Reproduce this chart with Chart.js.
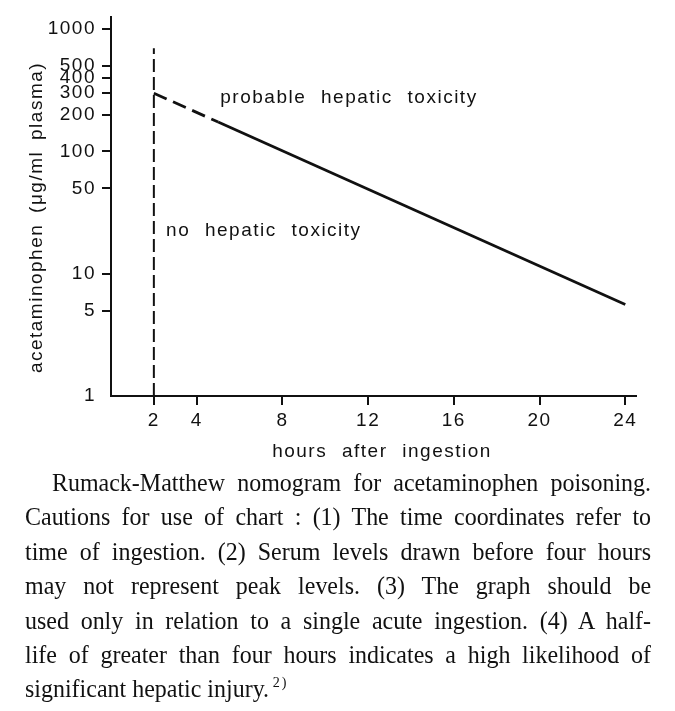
<!DOCTYPE html>
<html>
<head>
<meta charset="utf-8">
<script src="https://cdn.jsdelivr.net/npm/chart.js@4.4.1/dist/chart.umd.min.js"></script>
<style>
  html, body { margin: 0; padding: 0; background: #fff; }
  #marco { position: relative; width: 675px; height: 711px; overflow: hidden; }
  #nomograma { position: absolute; left: 0; top: 0; }
  #pie {
    position: absolute; left: 25px; top: 466px; width: 666px;
    transform: scaleX(0.94); transform-origin: 0 0;
    font-family: "Liberation Serif", serif; font-size: 25.5px; line-height: 34.4px; color: #111;
  }
  #pie div { text-align: justify; text-align-last: justify; white-space: nowrap; }
  #pie div.primera { text-indent: 28.7px; }
  #pie div.ultima { text-align-last: left; }
  #pie sup { font-size: 15px; line-height: 0; vertical-align: 10px; letter-spacing: 2px; margin-left: 4px; }
</style>
</head>
<body>
<div id="marco">
  <canvas id="nomograma" width="675" height="470"></canvas>
  <div id="pie">
    <div class="primera">Rumack-Matthew nomogram for acetaminophen poisoning.</div>
    <div>Cautions for use of chart : (1) The time coordinates refer to</div>
    <div>time of ingestion. (2) Serum levels drawn before four hours</div>
    <div>may not represent peak levels. (3) The graph should be</div>
    <div>used only in relation to a single acute ingestion. (4) A half-</div>
    <div>life of greater than four hours indicates a high likelihood of</div>
    <div class="ultima">significant hepatic injury.<sup>2)</sup></div>
  </div>
</div>
<script>
// Línea de toxicidad
const horasLinea = [2, 5, 24];
const nivelesLinea = [300, 174, 5.6];

// Corte vertical a las 2 horas
const horasCorte = [2, 2];
const nivelesCorte = [1, 700];

// Marcas de los ejes
const ticksX = [2, 4, 8, 12, 16, 20, 24];
const ticksY = [1, 5, 10, 50, 100, 200, 300, 400, 500, 1000];

// Textos
const textoArriba = "probable hepatic toxicity";
const textoAbajo = "no hepatic toxicity";
const tituloX = "hours after ingestion";
const tituloY = "acetaminophen (μg/ml plasma)";

const negro = "#111";
const fuente = { family: "'Liberation Sans', Arial, sans-serif", size: 19 };

// el original tiene las letras muy separadas
function espaciado(ctx) {
  ctx.letterSpacing = "1.5px";
  ctx.wordSpacing = "8px";
}

const rotulos = {
  id: "rotulos",
  beforeUpdate(chart) { espaciado(chart.ctx); },
  beforeDraw(chart) { espaciado(chart.ctx); },
  afterDraw(chart) {
    const ctx = chart.ctx;
    const sx = chart.scales.x, sy = chart.scales.y;
    ctx.save();
    espaciado(ctx);
    ctx.fillStyle = negro;
    ctx.font = "19px 'Liberation Sans', Arial, sans-serif";
    ctx.textBaseline = "alphabetic";
    ctx.textAlign = "left";
    ctx.fillText(textoArriba, sx.getPixelForValue(5.1), sy.getPixelForValue(248));
    ctx.fillText(textoAbajo, sx.getPixelForValue(2.57), sy.getPixelForValue(20.2));
    ctx.textAlign = "center";
    ctx.fillText(tituloX, 382, 457);
    ctx.translate(42, 217.5);
    ctx.rotate(-Math.PI / 2);
    ctx.wordSpacing = "4px";
    ctx.fillText(tituloY, 0, 0);
    ctx.restore();
  }
};

const datasets = [
  {
    data: horasLinea.map((h, i) => ({ x: h, y: nivelesLinea[i] })),
    borderColor: negro,
    borderWidth: 2.8,
    pointRadius: 0,
    segment: {
      // primer tramo discontinuo
      borderDash: c => c.p0DataIndex === 0 ? [14, 7] : undefined
    }
  },
  {
    data: horasCorte.map((h, i) => ({ x: h, y: nivelesCorte[i] })),
    borderColor: negro,
    borderWidth: 2,
    borderDash: [13, 5],
    pointRadius: 0
  }
];

new Chart(document.getElementById("nomograma"), {
  type: "line",
  data: { datasets },
  plugins: [rotulos],
  options: {
    responsive: false,
    animation: false,
    layout: { padding: { top: 17, right: 39, left: 0, bottom: 0 } },
    plugins: { legend: { display: false }, tooltip: { enabled: false } },
    scales: {
      x: {
        type: "linear",
        min: 0,
        max: 24.5,
        afterBuildTicks: s => { s.ticks = ticksX.map(v => ({ value: v })); },
        afterFit: s => { s.height = 470 - 396; },
        grid: { drawOnChartArea: false, drawTicks: true, tickLength: 9, color: negro, lineWidth: 2 },
        border: { display: true, color: negro, width: 2 },
        ticks: { color: negro, font: fuente, padding: 4, maxRotation: 0, autoSkip: false }
      },
      y: {
        type: "logarithmic",
        min: 1,
        max: 1250,
        afterBuildTicks: s => { s.ticks = ticksY.map(v => ({ value: v })); },
        afterFit: s => { s.width = 111; },
        grid: {
          drawOnChartArea: false, drawTicks: true, tickLength: 9, lineWidth: 2,
          color: c => (c.tick && c.tick.value === 1) ? "rgba(0,0,0,0)" : negro
        },
        border: { display: true, color: negro, width: 2 },
        ticks: { color: negro, font: fuente, padding: 6, autoSkip: false, callback: v => String(v) }
      }
    }
  }
});
</script>
</body>
</html>
